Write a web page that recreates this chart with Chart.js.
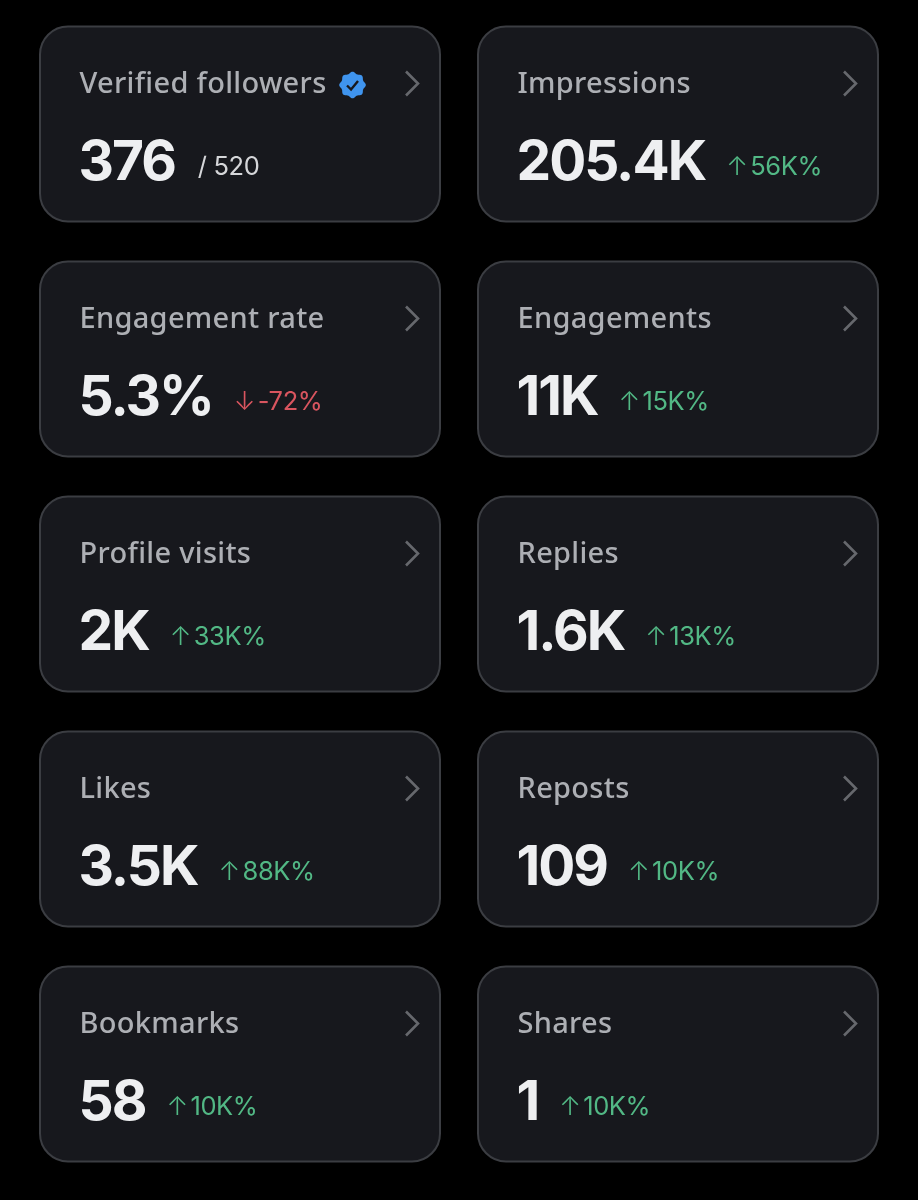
<!DOCTYPE html>
<html>
<head>
<meta charset="utf-8">
<style>
  html, body { margin: 0; padding: 0; background: #000; }
  canvas { display: block; }
</style>
<script src="https://cdn.jsdelivr.net/npm/chart.js@4"></script>
</head>
<body>
<canvas id="chartCards" width="918" height="1200"></canvas>
<script>
const columns = ["left", "right"];
const rows = ["row1", "row2", "row3", "row4", "row5"];
const metrics = ["Verified followers", "Impressions", "Engagement rate", "Engagements", "Profile visits", "Replies", "Likes", "Reposts", "Bookmarks", "Shares"];
const values = ["376", "205.4K", "5.3%", "11K", "2K", "1.6K", "3.5K", "109", "58", "1"];
const changes = ["/ 520", "56K%", "-72%", "15K%", "33K%", "13K%", "88K%", "10K%", "10K%", "10K%"];
const trends = ["none", "up", "down", "up", "up", "up", "up", "up", "up", "up"];

const trendColors = { none: "#d5d6d9", up: "#52b885", down: "#d9555f" };
const trendArrows = { up: "↑", down: "↓" };

function drawBadge(ctx, x, y) {
    ctx.beginPath();
    for (let deg = 0; deg <= 360; deg += 3) {
        const a = (deg * Math.PI) / 180;
        const r = 12.4 + 0.9 * Math.cos(8 * a);
        ctx.lineTo(x + r * Math.cos(a), y + r * Math.sin(a));
    }
    ctx.closePath();
    ctx.fillStyle = "#3f94ee";
    ctx.fill();
    ctx.beginPath();
    ctx.moveTo(x - 5.5, y + 0.5);
    ctx.lineTo(x - 1.5, y + 4.5);
    ctx.lineTo(x + 5.5, y - 4);
    ctx.strokeStyle = "#17181d";
    ctx.lineWidth = 2.4;
    ctx.stroke();
}

function drawCard(ctx, x, y, w, h, i) {
    // card body
    ctx.beginPath();
    ctx.roundRect(x - w / 2, y - h / 2, w, h, 28);
    ctx.fillStyle = "#17181d";
    ctx.fill();
    ctx.strokeStyle = "#3b3d42";
    ctx.lineWidth = 2;
    ctx.stroke();

    const left = x - 160.5;
    ctx.textBaseline = "alphabetic";
    ctx.textAlign = "left";

    // title
    ctx.font = "500 29px 'Noto Sans'";
    ctx.letterSpacing = "0.3px";
    ctx.fillStyle = "#adafb4";
    ctx.fillText(metrics[i], left, y - 31);
    if (i === 0) {
        drawBadge(ctx, left + ctx.measureText(metrics[i]).width + 26, y - 39);
    }

    // chevron
    ctx.beginPath();
    ctx.moveTo(x + 166, y - 52.5);
    ctx.lineTo(x + 178, y - 40.5);
    ctx.lineTo(x + 166, y - 28.5);
    ctx.strokeStyle = "#66686d";
    ctx.lineWidth = 2.6;
    ctx.stroke();

    // big number
    ctx.font = "700 55px Inter";
    ctx.letterSpacing = "-2px";
    ctx.fillStyle = "#eeeff1";
    ctx.fillText(values[i], left - 1, y + 56);
    let cursor = left + ctx.measureText(values[i]).width + 22;

    // change against previous period
    ctx.fillStyle = trendColors[trends[i]];
    const arrow = trendArrows[trends[i]];
    if (arrow) {
        ctx.letterSpacing = "0px";
        ctx.font = "300 26px Inter";
        ctx.fillText(arrow, cursor - 2, y + 51);
        cursor += 22;
    }
    ctx.font = "400 25.5px Inter";
    ctx.letterSpacing = "-0.4px";
    ctx.fillText(changes[i], cursor, y + 51);
}

const cardPlugin = {
    id: "cards",
    afterDatasetsDraw(chart) {
        const ctx = chart.ctx;
        const w = chart.scales.x.width / columns.length - 38;
        const h = chart.scales.y.height / rows.length - 40;
        chart.getDatasetMeta(0).data.forEach((pt, i) => {
            ctx.save();
            drawCard(ctx, pt.x, pt.y, w, h, i);
            ctx.restore();
        });
    },
};

new Chart(document.getElementById("chartCards"), {
    type: "scatter",
    data: {
        datasets: [
            {
                label: "Metrics",
                data: metrics.map((_, i) => ({
                    x: columns[i % columns.length],
                    y: rows[Math.floor(i / columns.length)],
                })),
                pointRadius: 0,
            },
        ],
    },
    plugins: [cardPlugin],
    options: {
        responsive: false,
        animation: false,
        layout: { padding: { left: 21, right: 21, top: 6.5, bottom: 18.5 } },
        plugins: { legend: { display: false }, tooltip: { enabled: false } },
        scales: {
            x: { type: "category", labels: columns, offset: true, display: false },
            y: { type: "category", labels: rows, offset: true, display: false },
        },
    },
});
</script>
</body>
</html>
